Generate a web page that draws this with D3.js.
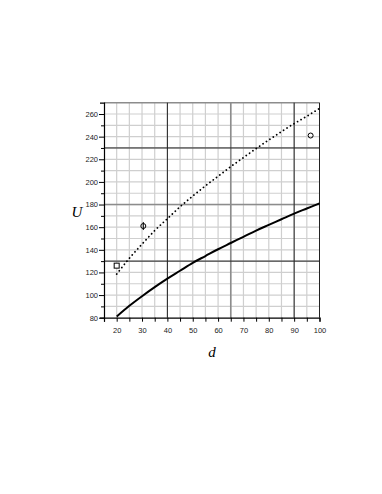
<!DOCTYPE html>
<html>
<head>
<meta charset="utf-8">
<script src="https://cdn.jsdelivr.net/npm/d3@7"></script>
<style>
  body { margin: 0; background: #fff; }
  svg { display: block; }
</style>
</head>
<body>
<div id="chart"></div>
<script>
// Values
const dValues = [20, 25, 30, 35, 40, 45, 50, 55, 60, 65, 70, 75, 80, 85, 90, 95, 100];
const solidU = [81, 90.5, 99, 107, 114.5, 121.5, 128.5, 134.5, 140.5, 146, 151.5, 157, 162, 167, 172, 176.5, 181];
const dottedU = [118.5, 132.5, 145, 157, 167.5, 178, 187.5, 196.5, 205, 213.5, 221.5, 229.5, 237, 244.5, 251.5, 258, 265];
const squarePts = [{ d: 20, u: 126 }];
const circlePts = [{ d: 30.5, u: 161, bar: true }, { d: 96.5, u: 241, bar: false }];
const xTickLabels = [20, 30, 40, 50, 60, 70, 80, 90, 100];
const yTickLabels = [80, 100, 120, 140, 160, 180, 200, 220, 240, 260];

const width = 382;
const height = 494;

const svg = d3
  .select("#chart")
  .append("svg")
  .attr("width", width)
  .attr("height", height);

const x = d3.scaleLinear().domain([15, 100]).range([104, 319.5]);
const y = d3.scaleLinear().domain([80, 270]).range([317.7, 102.7]);

// light grid
const grid = svg.append("g");
grid
  .selectAll("line.vx")
  .data(d3.range(20, 100, 5))
  .enter()
  .append("line")
  .attr("x1", (d) => x(d))
  .attr("x2", (d) => x(d))
  .attr("y1", y(80))
  .attr("y2", y(270))
  .attr("stroke", "#cfcfcf")
  .attr("stroke-width", 1.2);

grid
  .selectAll("line.hy")
  .data(d3.range(90, 270, 10))
  .enter()
  .append("line")
  .attr("x1", x(15))
  .attr("x2", x(100))
  .attr("y1", (d) => y(d))
  .attr("y2", (d) => y(d))
  .attr("stroke", "#cfcfcf")
  .attr("stroke-width", 1.2);

// heavier grid lines
const grayX = [65];
const grayY = [180, 270];
const blackX = [40, 90];
const blackY = [130, 230];

grid
  .selectAll("line.gx")
  .data(grayX)
  .enter()
  .append("line")
  .attr("x1", (d) => x(d))
  .attr("x2", (d) => x(d))
  .attr("y1", y(80))
  .attr("y2", y(270))
  .attr("stroke", "#8c8c8c")
  .attr("stroke-width", 1.6);

grid
  .selectAll("line.gy")
  .data(grayY)
  .enter()
  .append("line")
  .attr("x1", x(15))
  .attr("x2", x(100))
  .attr("y1", (d) => y(d))
  .attr("y2", (d) => y(d))
  .attr("stroke", "#8c8c8c")
  .attr("stroke-width", 1.6);

grid
  .selectAll("line.bx")
  .data(blackX.concat([100]))
  .enter()
  .append("line")
  .attr("x1", (d) => x(d))
  .attr("x2", (d) => x(d))
  .attr("y1", y(80))
  .attr("y2", y(270))
  .attr("stroke", "#222")
  .attr("stroke-width", 1);

grid
  .selectAll("line.by")
  .data(blackY)
  .enter()
  .append("line")
  .attr("x1", x(15))
  .attr("x2", x(100))
  .attr("y1", (d) => y(d))
  .attr("y2", (d) => y(d))
  .attr("stroke", "#222")
  .attr("stroke-width", 1);

// axes
const xAxis = d3
  .axisBottom(x)
  .tickValues(d3.range(15, 101, 5))
  .tickSize(4)
  .tickPadding(6)
  .tickFormat((d) => (xTickLabels.includes(d) ? d : ""));

const yAxis = d3
  .axisLeft(y)
  .tickValues(d3.range(80, 261, 10))
  .tickSize(4)
  .tickPadding(2)
  .tickFormat((d) => (yTickLabels.includes(d) ? d : ""));

const gx = svg
  .append("g")
  .attr("transform", `translate(0,${y(80)})`)
  .call(xAxis);
const gy = svg
  .append("g")
  .attr("transform", `translate(${x(15)},0)`)
  .call(yAxis);

[gx, gy].forEach((g) => {
  g.select(".domain").attr("stroke", "#000").attr("stroke-width", 1.2);
  g.selectAll(".tick line").attr("stroke", "#000");
  g.selectAll(".tick text")
    .style("font-family", "'Liberation Sans', Arial, sans-serif")
    .style("font-size", "7.5px")
    .attr("fill", "#222");
});
gy.selectAll(".tick line").attr("x2", (d) => (yTickLabels.includes(d) ? -5 : -3));

// curves
const line = d3
  .line()
  .x((d) => x(d[0]))
  .y((d) => y(d[1]))
  .curve(d3.curveMonotoneX);

svg
  .append("path")
  .datum(dValues.map((d, i) => [d, solidU[i]]))
  .attr("d", line)
  .attr("fill", "none")
  .attr("stroke", "#000")
  .attr("stroke-width", 2);

svg
  .append("path")
  .datum(dValues.map((d, i) => [d, dottedU[i]]))
  .attr("d", line)
  .attr("fill", "none")
  .attr("stroke", "#000")
  .attr("stroke-width", 1.8)
  .attr("stroke-linecap", "round")
  .attr("stroke-dasharray", "0.1,4");

// markers
svg
  .selectAll("rect.sq")
  .data(squarePts)
  .enter()
  .append("rect")
  .attr("x", (d) => x(d.d) - 2.5)
  .attr("y", (d) => y(d.u) - 2.5)
  .attr("width", 5)
  .attr("height", 5)
  .attr("fill", "#fff")
  .attr("stroke", "#000")
  .attr("stroke-width", 1);

svg
  .selectAll("line.bar")
  .data(circlePts.filter((d) => d.bar))
  .enter()
  .append("line")
  .attr("x1", (d) => x(d.d))
  .attr("x2", (d) => x(d.d))
  .attr("y1", (d) => y(d.u) - 4)
  .attr("y2", (d) => y(d.u) + 4)
  .attr("stroke", "#000")
  .attr("stroke-width", 1);

svg
  .selectAll("circle.pt")
  .data(circlePts)
  .enter()
  .append("circle")
  .attr("cx", (d) => x(d.d))
  .attr("cy", (d) => y(d.u))
  .attr("r", 2.5)
  .attr("fill", "none")
  .attr("stroke", "#000")
  .attr("stroke-width", 1);

// axis titles
svg
  .append("text")
  .attr("x", 212)
  .attr("y", 357)
  .attr("text-anchor", "middle")
  .style("font-family", "'Liberation Serif', 'Times New Roman', serif")
  .style("font-style", "italic")
  .style("font-size", "15px")
  .text("d");

svg
  .append("text")
  .attr("x", 77)
  .attr("y", 217)
  .attr("text-anchor", "middle")
  .style("font-family", "'Liberation Serif', 'Times New Roman', serif")
  .style("font-style", "italic")
  .style("font-size", "15px")
  .text("U");
</script>
</body>
</html>
